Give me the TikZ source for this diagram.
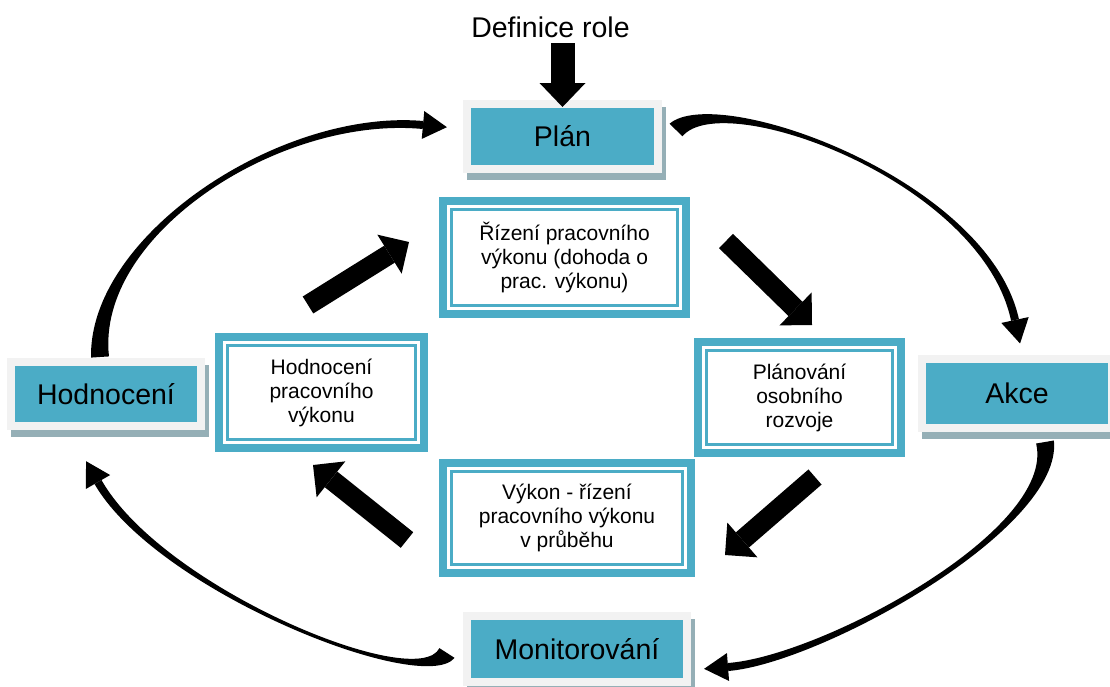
\documentclass[tikz,border=0pt]{standalone}
\usepackage{fontspec}
\setmainfont{Liberation Sans}
\usetikzlibrary{arrows.meta,calc}
\definecolor{tealc}{HTML}{4BACC6}
\definecolor{framegray}{HTML}{F2F2F2}
\definecolor{shadowc}{HTML}{95AFB6}
% tapered curved arrow: start #1, controls #2 #3, head base #4
\newcommand{\tapercurve}[4]{%
  \fill[black] ($(#1)!9pt!90:(#2)$) .. controls ($(#2)!3.5pt!-90:(#1)$) and ($(#3)!3.5pt!90:(#4)$) .. ($(#4)!4pt!-90:(#3)$)
     -- ($(#4)!4pt!90:(#3)$) .. controls ($(#3)!3.5pt!-90:(#4)$) and ($(#2)!3.5pt!90:(#1)$) .. ($(#1)!9pt!-90:(#2)$) -- cycle;
  \fill[black] ($(#4)!-24pt!(#3)$) -- ($(#4)!14pt!90:(#3)$) -- ($(#4)!14pt!-90:(#3)$) -- cycle;
}
\begin{document}
\begin{tikzpicture}[x=1pt,y=-1pt,
  bigbox/.style={fill=tealc, draw=framegray, line width=8pt, inner sep=0pt, outer sep=0pt,
    text=black, font=\fontsize{28.5}{32}\selectfont,
    preaction={fill=shadowc, draw=shadowc, line width=8pt, transform canvas={shift={(4pt,-6.5pt)}}}},
  innerbox/.style={fill=white, draw=tealc, line width=8pt, inner sep=0pt, outer sep=0pt,
    align=center, text=black, font=\fontsize{21}{24}\selectfont,
    path picture={\draw[tealc, line width=2.5pt]
      ([shift={(8.5pt,8.5pt)}]path picture bounding box.south west) rectangle
      ([shift={(-8.5pt,-8.5pt)}]path picture bounding box.north east);}},
  blockarrow/.style={draw=black, line width=20pt, -{Triangle[length=23pt,width=46pt,line width=0pt]}},
  downarrow/.style={draw=black, line width=24pt, -{Triangle[length=24pt,width=46pt,line width=0pt]}},
  titletext/.style={inner sep=0pt, outer sep=0pt, font=\fontsize{28.5}{32}\selectfont}
]
\fill[white] (0,0) rectangle (1110,686);
\useasboundingbox (0,0) rectangle (1110,686);

% outer cycle boxes
\node[bigbox, minimum width=191pt, minimum height=65pt] (plan) at (562.5,136.5) {Plán};
\node[bigbox, minimum width=190pt, minimum height=64pt] (hod) at (106,394) {Hodnocení};
\node[bigbox, minimum width=190pt, minimum height=69pt] (akce) at (1017,393.5) {Akce};
\node[bigbox, minimum width=220pt, minimum height=66pt] (mon) at (577,649) {Monitorování};

% inner boxes
\node[innerbox, minimum width=243pt, minimum height=113pt] (riz) at (564.5,257.5)
  {Řízení pracovního\\výkonu (dohoda o\\prac. výkonu)};
\node[innerbox, minimum width=205pt, minimum height=111pt] (hpv) at (321.5,392.5)
  {Hodnocení\\pracovního\\výkonu};
\node[innerbox, minimum width=203pt, minimum height=111pt] (plo) at (799.5,397.5)
  {Plánování\\osobního\\rozvoje};
\node[innerbox, minimum width=248pt, minimum height=110pt] (vyk) at (567,518)
  {Výkon - řízení\\pracovního výkonu\\v průběhu};

% title and its arrow
\node[titletext, anchor=base] (def) at (550.5,37) {Definice role};
\draw[downarrow, shorten <=6pt, shorten >=-3pt] (def.south -| plan.north) -- (plan.north);

% inner straight arrows
\coordinate (s1a) at (308,305); \coordinate (s1b) at (409,242);
\coordinate (s2a) at (726,241); \coordinate (s2b) at (812,325);
\coordinate (s3a) at (815,477); \coordinate (s3b) at (725,555);
\coordinate (s4a) at (407,540); \coordinate (s4b) at (313,465);
\draw[blockarrow] (s1a) -- (s1b);
\draw[blockarrow] (s2a) -- (s2b);
\draw[blockarrow] (s3a) -- (s3b);
\draw[blockarrow] (s4a) -- (s4b);

% outer curved arrows
\coordinate (a1p0) at ($(hod.north)+(-6,-5)$);
\coordinate (a1p1) at (92,235);
\coordinate (a1p2) at (280,112);
\coordinate (a1p3) at ($(plan.west)+(-44,-11.5)$);
\tapercurve{a1p0}{a1p1}{a1p2}{a1p3}

\coordinate (a2p0) at ($(plan.east)+(18,-6.5)$);
\coordinate (a2p1) at (720,85);
\coordinate (a2p2) at (985,180);
\coordinate (a2p3) at ($(akce.north)+(-2,-39)$);
\tapercurve{a2p0}{a2p1}{a2p2}{a2p3}

\coordinate (a3p0) at ($(akce.south)+(28,14)$);
\coordinate (a3p1) at (1060,530);
\coordinate (a3p2) at (820,660);
\coordinate (a3p3) at ($(mon.east)+(41,18)$);
\tapercurve{a3p0}{a3p1}{a3p2}{a3p3}

\coordinate (a4p0) at ($(mon.west)+(-20,4)$);
\coordinate (a4p1) at (420,695);
\coordinate (a4p2) at (160,590);
\coordinate (a4p3) at ($(hod.south)+(-8,56)$);
\tapercurve{a4p0}{a4p1}{a4p2}{a4p3}
\end{tikzpicture}
\end{document}
